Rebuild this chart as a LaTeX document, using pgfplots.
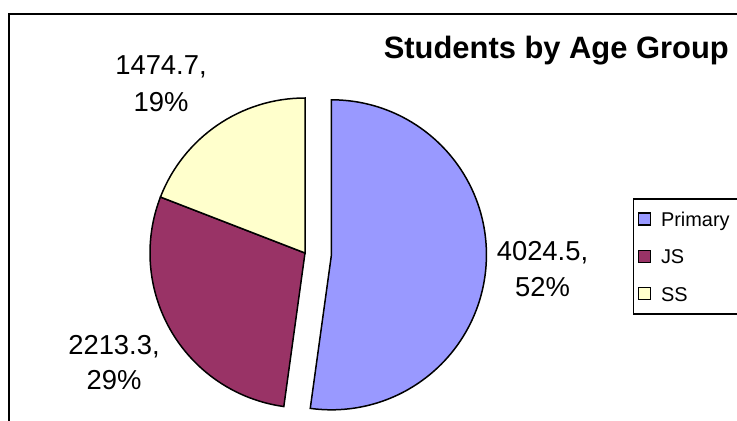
\documentclass[border=0pt]{standalone}
\usepackage{pgfplots}
\pgfplotsset{compat=1.18}
\usepackage{pgfplotstable}
\usetikzlibrary{calc}
\usepackage{fontspec}
\setmainfont{Liberation Sans}

\definecolor{cPrimary}{HTML}{9999FF}
\definecolor{cJS}{HTML}{993366}
\definecolor{cSS}{HTML}{FFFFCC}

\pgfplotstableread{
group value
Primary 4024.5
JS 2213.3
SS 1474.7
}\studentdata

\begin{document}
\begin{tikzpicture}
\pgfplotstablegetelem{0}{value}\of\studentdata \let\vP\pgfplotsretval
\pgfplotstablegetelem{1}{value}\of\studentdata \let\vJ\pgfplotsretval
\pgfplotstablegetelem{2}{value}\of\studentdata \let\vS\pgfplotsretval
\pgfmathsetmacro{\total}{\vP+\vJ+\vS}
\pgfmathsetmacro{\aP}{360*(\vP/\total)}
\pgfmathsetmacro{\aJ}{360*(\vJ/\total)}
\pgfmathsetmacro{\aS}{360*(\vS/\total)}
\pgfmathsetmacro{\sP}{90}
\pgfmathsetmacro{\eP}{\sP-\aP}
\pgfmathsetmacro{\mP}{\sP-\aP/2}
\pgfmathsetmacro{\eJ}{\eP-\aJ}
\pgfmathsetmacro{\eS}{\eJ-\aS}
\begin{axis}[
  x=1bp, y=1bp, xmin=0, xmax=737, ymin=0, ymax=421,
  hide axis, clip=false,
  legend style={at={(axis cs:633.3,222)}, anchor=north west,
    draw=none, fill=none,
    inner xsep=4bp, inner ysep=5.5bp, row sep=8.2bp, column sep=8bp,
    font=\fontsize{20}{24}\selectfont,
    nodes={inner sep=2bp, text height=20bp, text depth=5bp}},
  legend cell align=left,
  legend image code/.code={\draw[#1, draw=black, line width=1.5bp] (0bp,-6bp) rectangle (12bp,6bp);},
]
% legend frame
\filldraw[fill=white, draw=black, line width=1.5bp] (axis cs:633.3,222) rectangle (axis cs:745,107);
\addlegendimage{fill=cPrimary}
\addlegendentry{Primary}
\addlegendimage{fill=cJS}
\addlegendentry{JS}
\addlegendimage{fill=cSS}
\addlegendentry{SS}

% pie slices (Primary exploded)
\filldraw[fill=cPrimary, draw=black, line width=1.5bp]
  ($(axis cs:305,168)+(\mP:26.5bp)$) coordinate (cP) -- ++(\sP:155bp)
  arc[start angle=\sP, end angle=\eP, radius=155bp] -- cycle;
\filldraw[fill=cJS, draw=black, line width=1.5bp]
  (axis cs:305,168) -- ++(\eP:155bp)
  arc[start angle=\eP, end angle=\eJ, radius=155bp] -- cycle;
\filldraw[fill=cSS, draw=black, line width=1.5bp]
  (axis cs:305,168) -- ++(\eJ:155bp)
  arc[start angle=\eJ, end angle=\eS, radius=155bp] -- cycle;

% data labels
\begin{scope}[every node/.style={anchor=base, font=\fontsize{27.5}{33}\selectfont, inner sep=0pt}]
\node at (axis cs:161,346.6) {1474.7,};
\node at (axis cs:161,309.3) {19\%};
\node at (axis cs:114,66.1) {2213.3,};
\node at (axis cs:114,31.1) {29\%};
\node at (axis cs:542.5,160.3) {4024.5,};
\node at (axis cs:542.5,124.1) {52\%};
\end{scope}

% title
\node[anchor=base, inner sep=0pt, font=\fontsize{31}{37}\selectfont\bfseries] at (axis cs:556.3,362.1) {Students by Age Group};

% chart frame
\draw[line width=2bp] (axis cs:9,0) -- (axis cs:9,407.3) -- (axis cs:740,407.3);
\end{axis}
\pgfresetboundingbox
\path[use as bounding box] (0,0) rectangle (737bp,421bp);
\end{tikzpicture}
\end{document}
